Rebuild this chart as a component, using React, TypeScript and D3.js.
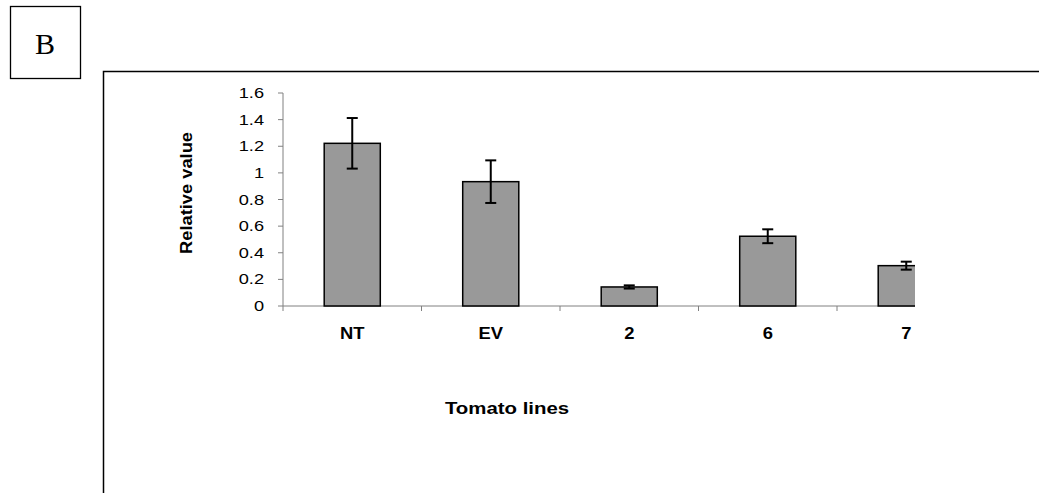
import React from "react";
import * as d3 from "d3";

const categories = ["NT", "EV", "2", "6", "7"];
const values = [1.222, 0.934, 0.143, 0.524, 0.303];
const errors = [0.19, 0.16, 0.012, 0.052, 0.03];
const yTicks = [0, 0.2, 0.4, 0.6, 0.8, 1, 1.2, 1.4, 1.6];
const yTickLabels = ["0", "0.2", "0.4", "0.6", "0.8", "1", "1.2", "1.4", "1.6"];

const W = 1039;
const H = 493;
const axisX0 = 283;
const step = 138.5;
const clipRight = 915;

export default function App() {
  const y = d3.scaleLinear().domain([0, 1.6]).range([306, 93]);
  const x = d3
    .scaleBand<string>()
    .domain(categories)
    .range([axisX0, axisX0 + step * categories.length])
    .paddingInner(0.595)
    .paddingOuter(0.2975);
  const st = x.step();
  const bw = x.bandwidth();
  const font = "'Liberation Sans', Arial, Helvetica, sans-serif";
  const axisColor = "#808080";

  return (
    <svg
      width={W}
      height={H}
      style={{ position: "absolute", left: 0, top: 0, background: "#fff" }}
    >
      <defs>
        <clipPath id="plotClip">
          <rect x={0} y={0} width={clipRight} height={H} />
        </clipPath>
      </defs>
      {/* Panel label box */}
      <rect x={10.5} y={6.5} width={70} height={72} fill="none" stroke="#000" strokeWidth={1.3} />
      <text
        x={45}
        y={54}
        textAnchor="middle"
        fontFamily="'Liberation Serif', 'Times New Roman', serif"
        fontSize={30}
        fill="#000"
      >
        B
      </text>
      {/* outer frame */}
      <path d={`M103.5,${H} V71.5 H${W}`} fill="none" stroke="#000" strokeWidth={1.5} />

      {/* y axis */}
      <line x1={axisX0} x2={axisX0} y1={y(1.6)} y2={y(0)} stroke={axisColor} strokeWidth={1} />
      {yTicks.map((t, i) => (
        <g key={i}>
          <line x1={axisX0 - 5} x2={axisX0} y1={y(t)} y2={y(t)} stroke={axisColor} strokeWidth={1} />
          <text
            transform={`translate(${axisX0 - 19},${y(t) + 5}) scale(1.3,1)`}
            textAnchor="end"
            fontFamily={font}
            fontSize={14}
            fill="#000"
          >
            {yTickLabels[i]}
          </text>
        </g>
      ))}
      <text
        transform={`translate(${192},${193}) rotate(-90)`}
        textAnchor="middle"
        fontFamily={font}
        fontSize={17}
        fontWeight="bold"
        textLength={122}
        lengthAdjust="spacingAndGlyphs"
        fill="#000"
      >
        Relative value
      </text>

      <g clipPath="url(#plotClip)">
        {/* x axis */}
        <line x1={axisX0} x2={axisX0 + st * categories.length} y1={y(0)} y2={y(0)} stroke={axisColor} strokeWidth={1} />
        {categories.map((c, i) => (
          <line
            key={c}
            x1={axisX0 + i * st}
            x2={axisX0 + i * st}
            y1={y(0)}
            y2={y(0) + 5}
            stroke={axisColor}
            strokeWidth={1}
          />
        ))}
        {categories.map((c, i) => (
          <rect
            key={c}
            x={x(c)!}
            y={y(values[i])}
            width={bw}
            height={y(0) - y(values[i])}
            fill="#999999"
            stroke="#000"
            strokeWidth={1.5}
          />
        ))}
        {categories.map((c, i) => {
          const cx = x(c)! + bw / 2;
          const top = y(values[i] + errors[i]);
          const bot = y(values[i] - errors[i]);
          return (
            <g key={c} stroke="#000" strokeWidth={2}>
              <line x1={cx} x2={cx} y1={top} y2={bot} />
              <line x1={cx - 5.5} x2={cx + 5.5} y1={top} y2={top} />
              <line x1={cx - 5.5} x2={cx + 5.5} y1={bot} y2={bot} />
            </g>
          );
        })}
      </g>
      {categories.map((c) => (
        <text
          key={c}
          transform={`translate(${x(c)! + bw / 2},${339}) scale(1.15,1)`}
          textAnchor="middle"
          fontFamily={font}
          fontSize={16}
          fontWeight="bold"
          fill="#000"
        >
          {c}
        </text>
      ))}
      <text
        transform={`translate(${507},${414}) scale(1.2,1)`}
        textAnchor="middle"
        fontFamily={font}
        fontSize={17}
        fontWeight="bold"
        fill="#000"
      >
        Tomato lines
      </text>
    </svg>
  );
}
